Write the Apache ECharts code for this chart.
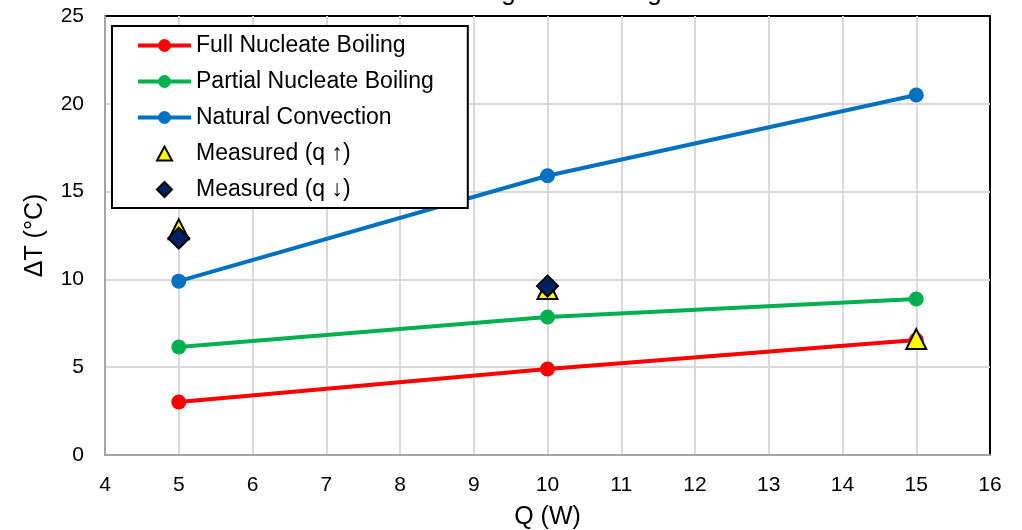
<!DOCTYPE html>
<html><head><meta charset="utf-8">
<script src="https://cdn.jsdelivr.net/npm/echarts@6/dist/echarts.min.js"></script>
<style>html,body{margin:0;padding:0;background:#fff}#c{width:1022px;height:530px}</style>
</head><body><div id="c"></div>
<script>
const qValues = [5, 10, 15];
const fullNucleate = [3.02, 4.9, 6.55];
const partialNucleate = [6.15, 7.86, 8.88];
const naturalConv = [9.9, 15.9, 20.5];
const measuredUpQ = [5, 10, 15];
const measuredUp = [12.85, 9.45, 6.6];
const measuredDownQ = [5, 10];
const measuredDown = [12.35, 9.62];
const xTicks = {min: 4, max: 16, interval: 1};
const yTicks = {min: 0, max: 25, interval: 5};
const titleText = 'Heating and Cooling';

const pairs = (xs, ys) => xs.map((x, i) => [x, ys[i]]);
const font = '"Liberation Sans", Arial, sans-serif';
const lineSeries = (name, color, data, z) => ({
  name, type: 'line', data: pairs(qValues, data), z,
  symbol: 'circle', symbolSize: 15,
  lineStyle: {color, width: 4}, itemStyle: {color, opacity: 1},
  emphasis: {disabled: true}
});
const triIcon = 'path://M0,0M53,16M19,15L26.5,1L34,15Z';
const diaIcon = 'path://M0,0M53,16M26.5,0.5L34,8L26.5,15.5L19,8Z';
const chart = echarts.init(document.getElementById('c'), null, {renderer: 'canvas'});
chart.setOption({
  animation: false,
  backgroundColor: '#fff',
  title: {text: titleText, left: 421, top: -25, textStyle: {fontFamily: font, fontSize: 26, fontWeight: 'normal', color: '#000'}},
  grid: {left: 105, right: 32, top: 16, bottom: 75, show: true, borderColor: '#000', borderWidth: 2, containLabel: false, outerBoundsMode: 'none'},
  legend: {
    orient: 'vertical', left: 112, top: 26,
    padding: [8, 34, 7, 24],
    itemWidth: 53, itemHeight: 16, itemGap: 13,
    backgroundColor: '#fff', borderColor: '#000', borderWidth: 2,
    lineStyle: {width: 4},
    textStyle: {fontFamily: font, fontSize: 23, color: '#000'},
    data: [
      {name: 'Full Nucleate Boiling'},
      {name: 'Partial Nucleate Boiling'},
      {name: 'Natural Convection'},
      {name: 'Measured (q ↑)', icon: triIcon},
      {name: 'Measured (q ↓)', icon: diaIcon}
    ]
  },
  xAxis: {
    type: 'value', min: xTicks.min, max: xTicks.max, interval: xTicks.interval,
    name: 'Q (W)', nameLocation: 'middle', nameGap: 50,
    nameTextStyle: {fontFamily: font, fontSize: 25, color: '#000'},
    axisLine: {show: true, lineStyle: {color: '#a6a6a6', width: 2}},
    axisTick: {show: false},
    axisLabel: {fontFamily: font, fontSize: 21, color: '#000', margin: 20},
    splitLine: {show: true, showMaxLine: false, lineStyle: {color: '#d9d9d9', width: 2}}
  },
  yAxis: {
    type: 'value', min: yTicks.min, max: yTicks.max, interval: yTicks.interval,
    name: 'ΔT (°C)', nameLocation: 'middle', nameGap: 57, nameRotate: 90,
    nameTextStyle: {fontFamily: font, fontSize: 25, color: '#000'},
    axisLine: {show: true, lineStyle: {color: '#a6a6a6', width: 2}},
    axisTick: {show: false},
    axisLabel: {fontFamily: font, fontSize: 21, color: '#000', margin: 21},
    splitLine: {show: true, showMaxLine: false, lineStyle: {color: '#d9d9d9', width: 2}}
  },
  series: [
    lineSeries('Full Nucleate Boiling', '#ff0000', fullNucleate, 2),
    lineSeries('Partial Nucleate Boiling', '#00b050', partialNucleate, 2),
    lineSeries('Natural Convection', '#0070c0', naturalConv, 2),
    {name: 'Measured (q ↑)', type: 'scatter', data: pairs(measuredUpQ, measuredUp), z: 3,
     symbol: 'triangle', symbolSize: [20, 20],
     itemStyle: {color: '#ffff00', borderColor: '#000', borderWidth: 2, opacity: 1}},
    {name: 'Measured (q ↓)', type: 'scatter', data: pairs(measuredDownQ, measuredDown), z: 4,
     symbol: 'diamond', symbolSize: [21, 21],
     itemStyle: {color: '#002060', borderColor: '#000', borderWidth: 2, opacity: 1}}
  ]
});
</script></body></html>
